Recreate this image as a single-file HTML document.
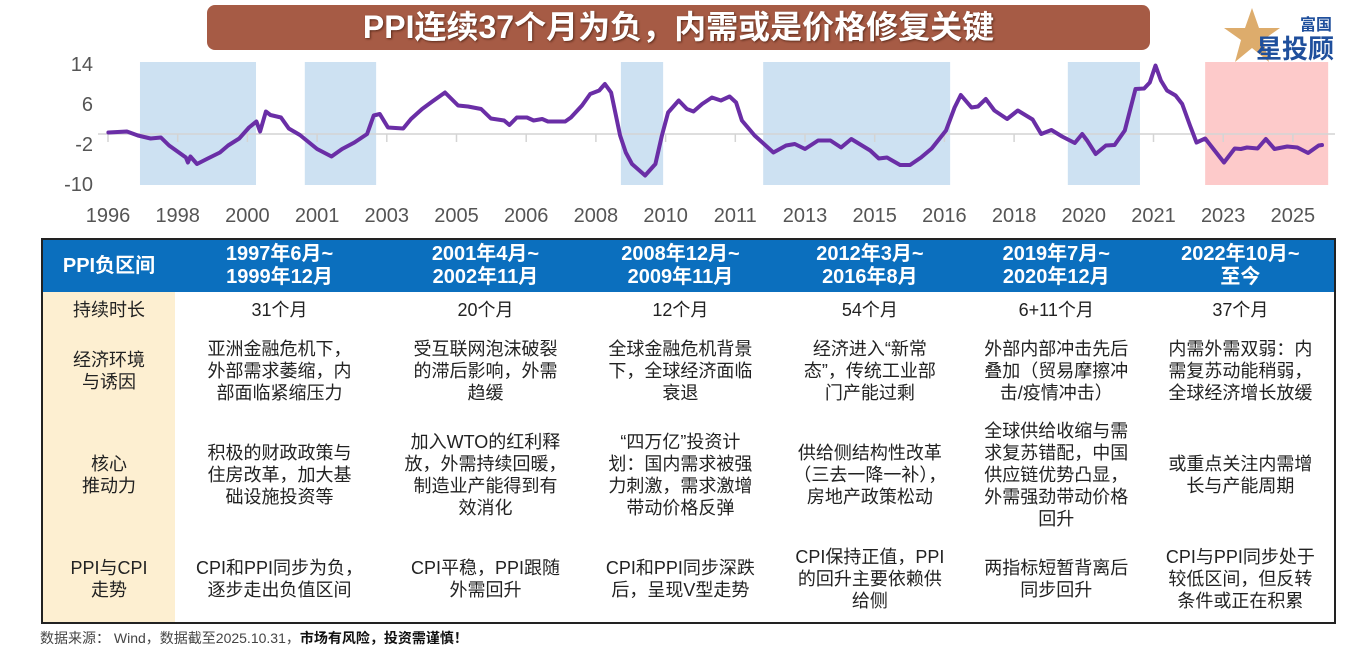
<!DOCTYPE html>
<html><head><meta charset="utf-8">
<style>
body{margin:0;width:1366px;height:649px;background:#fff;overflow:hidden;position:relative;font-family:"Liberation Sans","Noto Sans CJK SC",sans-serif;}
#title{position:absolute;left:207px;top:5px;width:943px;height:45px;background:#a65b45;border-radius:8px;color:#fff;font-weight:bold;font-size:32px;text-align:center;line-height:45px;text-shadow:1px 1px 2px #5a2a1a;}
#logo{position:absolute;left:1222px;top:6px;width:130px;height:60px;}
#chart{position:absolute;left:0;top:0;}
table{position:absolute;left:41px;top:238px;border-collapse:collapse;border:2px solid #222;width:1295px;height:386px;font-size:18px;color:#222;}
td{text-align:center;vertical-align:middle;line-height:22px;padding:0 2px;}
tr.h td{background:#0b6fbe;color:#fff;font-weight:bold;font-size:20px;line-height:23px;height:52px;}
td.lab{background:#fdefd1;width:128px;}
#src{position:absolute;left:40px;top:628px;font-size:14px;color:#444;}
#src b{color:#111;}
</style></head><body>
<div id="title">PPI连续37个月为负，内需或是价格修复关键</div>
<svg id="logo" viewBox="0 0 130 60">
<polygon points="30,2 37,22 58,22 41,34 47,56 30,42 13,56 19,34 2,22 23,22" fill="#d9a35c" opacity="0.9"/>
<text x="78" y="24" font-size="16" font-weight="bold" fill="#1f4f9c" font-family="Noto Sans CJK SC,sans-serif">富国</text>
<text x="34" y="52" font-size="26" font-weight="bold" fill="#1f4f9c" font-family="Noto Sans CJK SC,sans-serif">星投顾</text>
</svg>
<svg id="chart" width="1366" height="236"></svg>
<table>
<tr class="h"><td class="lab" style="background:#0b6fbe">PPI负区间</td><td>1997年6月~<br>1999年12月</td><td>2001年4月~<br>2002年11月</td><td>2008年12月~<br>2009年11月</td><td>2012年3月~<br>2016年8月</td><td>2019年7月~<br>2020年12月</td><td>2022年10月~<br>至今</td></tr>
<tr style="height:36px"><td class="lab">持续时长</td><td>31个月</td><td>20个月</td><td>12个月</td><td>54个月</td><td>6+11个月</td><td>37个月</td></tr>
<tr style="height:86px"><td class="lab">经济环境<br>与诱因</td><td>亚洲金融危机下，<br>外部需求萎缩，内<br>部面临紧缩压力</td><td>受互联网泡沫破裂<br>的滞后影响，外需<br>趋缓</td><td>全球金融危机背景<br>下，全球经济面临<br>衰退</td><td>经济进入“新常<br>态”，传统工业部<br>门产能过剩</td><td>外部内部冲击先后<br>叠加（贸易摩擦冲<br>击/疫情冲击）</td><td>内需外需双弱：内<br>需复苏动能稍弱，<br>全球经济增长放缓</td></tr>
<tr style="height:122px"><td class="lab">核心<br>推动力</td><td>积极的财政政策与<br>住房改革，加大基<br>础设施投资等</td><td>加入WTO的红利释<br>放，外需持续回暖，<br>制造业产能得到有<br>效消化</td><td>“四万亿”投资计<br>划：国内需求被强<br>力刺激，需求激增<br>带动价格反弹</td><td>供给侧结构性改革<br>（三去一降一补），<br>房地产政策松动</td><td>全球供给收缩与需<br>求复苏错配，中国<br>供应链优势凸显，<br>外需强劲带动价格<br>回升</td><td>或重点关注内需增<br>长与产能周期</td></tr>
<tr><td class="lab">PPI与CPI<br>走势</td><td>CPI和PPI同步为负，<br>逐步走出负值区间</td><td>CPI平稳，PPI跟随<br>外需回升</td><td>CPI和PPI同步深跌<br>后，呈现V型走势</td><td>CPI保持正值，PPI<br>的回升主要依赖供<br>给侧</td><td>两指标短暂背离后<br>同步回升</td><td>CPI与PPI同步处于<br>较低区间，但反转<br>条件或正在积累</td></tr>
</table>
<div id="src">数据来源： Wind，数据截至2025.10.31，<b>市场有风险，投资需谨慎！</b></div>
<script>
// time in years since Jan 1996 (chart axis units)
const seriesT=[0.01,0.46,0.73,1.04,1.29,1.49,1.90,1.95,2.01,2.17,2.41,2.73,2.93,3.2,3.44,3.62,3.71,3.85,3.96,4.22,4.41,4.68,5.1,5.45,5.71,6.01,6.32,6.48,6.63,6.83,7.2,7.39,7.66,7.91,8.22,8.54,8.78,9.1,9.34,9.66,9.79,9.97,10.22,10.38,10.59,10.73,11.15,11.29,11.56,11.76,11.98,12.12,12.27,12.49,12.63,12.78,13.1,13.35,13.51,13.66,13.92,14.12,14.28,14.49,14.73,14.95,15.16,15.32,15.46,15.77,16.23,16.54,16.75,17.0,17.32,17.62,17.88,18.13,18.59,18.8,19.0,19.32,19.56,19.83,20.09,20.44,20.65,20.8,21.06,21.22,21.41,21.62,21.93,22.19,22.55,22.76,23.01,23.27,23.58,23.76,23.88,24.09,24.34,24.55,24.8,25.06,25.27,25.41,25.55,25.68,25.83,26.04,26.2,26.39,26.55,26.76,27.22,27.48,27.63,27.78,28.04,28.24,28.45,28.76,29.01,29.27,29.53,29.61];
const ppiValues=[0.3,0.5,-0.3,-0.9,-0.7,-2.3,-4.7,-5.7,-4.5,-6,-5,-3.7,-2.3,-0.9,1.3,2.5,0.5,4.5,3.8,3.3,1.1,-0.2,-3,-4.5,-3,-1.7,0,3.7,4,1.3,1.1,3,5,6.5,8.3,5.7,5.5,5,3.1,2.7,1.8,3.3,3.3,2.7,3,2.5,2.5,3.3,5.7,8,8.7,10,8.3,-0.3,-3.7,-6,-8.3,-6,-0.3,4.3,6.7,5,4.5,6,7.3,6.7,7.5,6.3,2.7,-0.3,-3.7,-2.3,-2,-3,-1.3,-1.3,-2.7,-1,-3.3,-4.9,-4.7,-6.2,-6.2,-4.7,-2.9,0.7,5.3,7.8,5.3,5.5,7,4.7,3,4.7,2.9,0,0.8,-0.5,-1.8,0,-1.3,-4,-2.3,-2.2,0.7,9,9.1,10.3,13.7,10.7,8.7,7.7,6,1.7,-1.7,-0.9,-5.7,-2.9,-3,-2.7,-2.9,-1,-3,-2.5,-2.7,-3.8,-2.3,-2.2];
const bandStart=[0.78,4.80,12.51,15.98,23.41,26.76];
const bandEnd=[3.61,6.54,13.54,20.54,25.17,29.76];
const bandHighlight=[false,false,false,false,false,true];
const xTickLabels=["1996","1998","2000","2001","2003","2005","2006","2008","2010","2011","2013","2015","2016","2018","2020","2021","2023","2025"];
const yTicks=[14,6,-2,-10];

const NS="http://www.w3.org/2000/svg";
const svg=document.getElementById('chart');
const X=t=>108+t*41;
const Y=v=>134-v*5;
const XL=i=>108+i*69.7;
function mk(tag,at){const e=document.createElementNS(NS,tag);for(const k in at)e.setAttribute(k,at[k]);svg.appendChild(e);return e;}
bandStart.forEach((s,i)=>{
  const r=mk('rect',{x:X(s),y:62,width:X(bandEnd[i])-X(s),height:Y(-10)+1-62,fill:bandHighlight[i]?'#fdcaca':'#cde1f2'});
  
  
});
const ax=mk('line',{x1:98,x2:1335,y1:Y(0),y2:Y(0),stroke:'#d4d4d4','stroke-width':1.5});


xTickLabels.forEach((l,i)=>{
  const tk=mk('line',{x1:XL(i),x2:XL(i),y1:Y(0),y2:Y(0)+8,stroke:'#d4d4d4','stroke-width':1.5});
  
  
  const t=mk('text',{x:XL(i),y:222,'text-anchor':'middle','font-size':20,fill:'#555','font-family':'Liberation Sans,sans-serif'});
  t.textContent=l;
  
  
});
yTicks.forEach(v=>{
  const t=mk('text',{x:93,y:Y(v)+7,'text-anchor':'end','font-size':20,fill:'#555','font-family':'Liberation Sans,sans-serif'});
  t.textContent=v;
  
  
});
let d='';seriesT.forEach((t,i)=>{d+=(i?'L':'M')+X(t).toFixed(1)+','+Y(ppiValues[i]).toFixed(1);});
const p=mk('path',{d:d,fill:'none',stroke:'#6a2ea6','stroke-width':4,'stroke-linejoin':'round','stroke-linecap':'round'});


</script>
</body></html>
